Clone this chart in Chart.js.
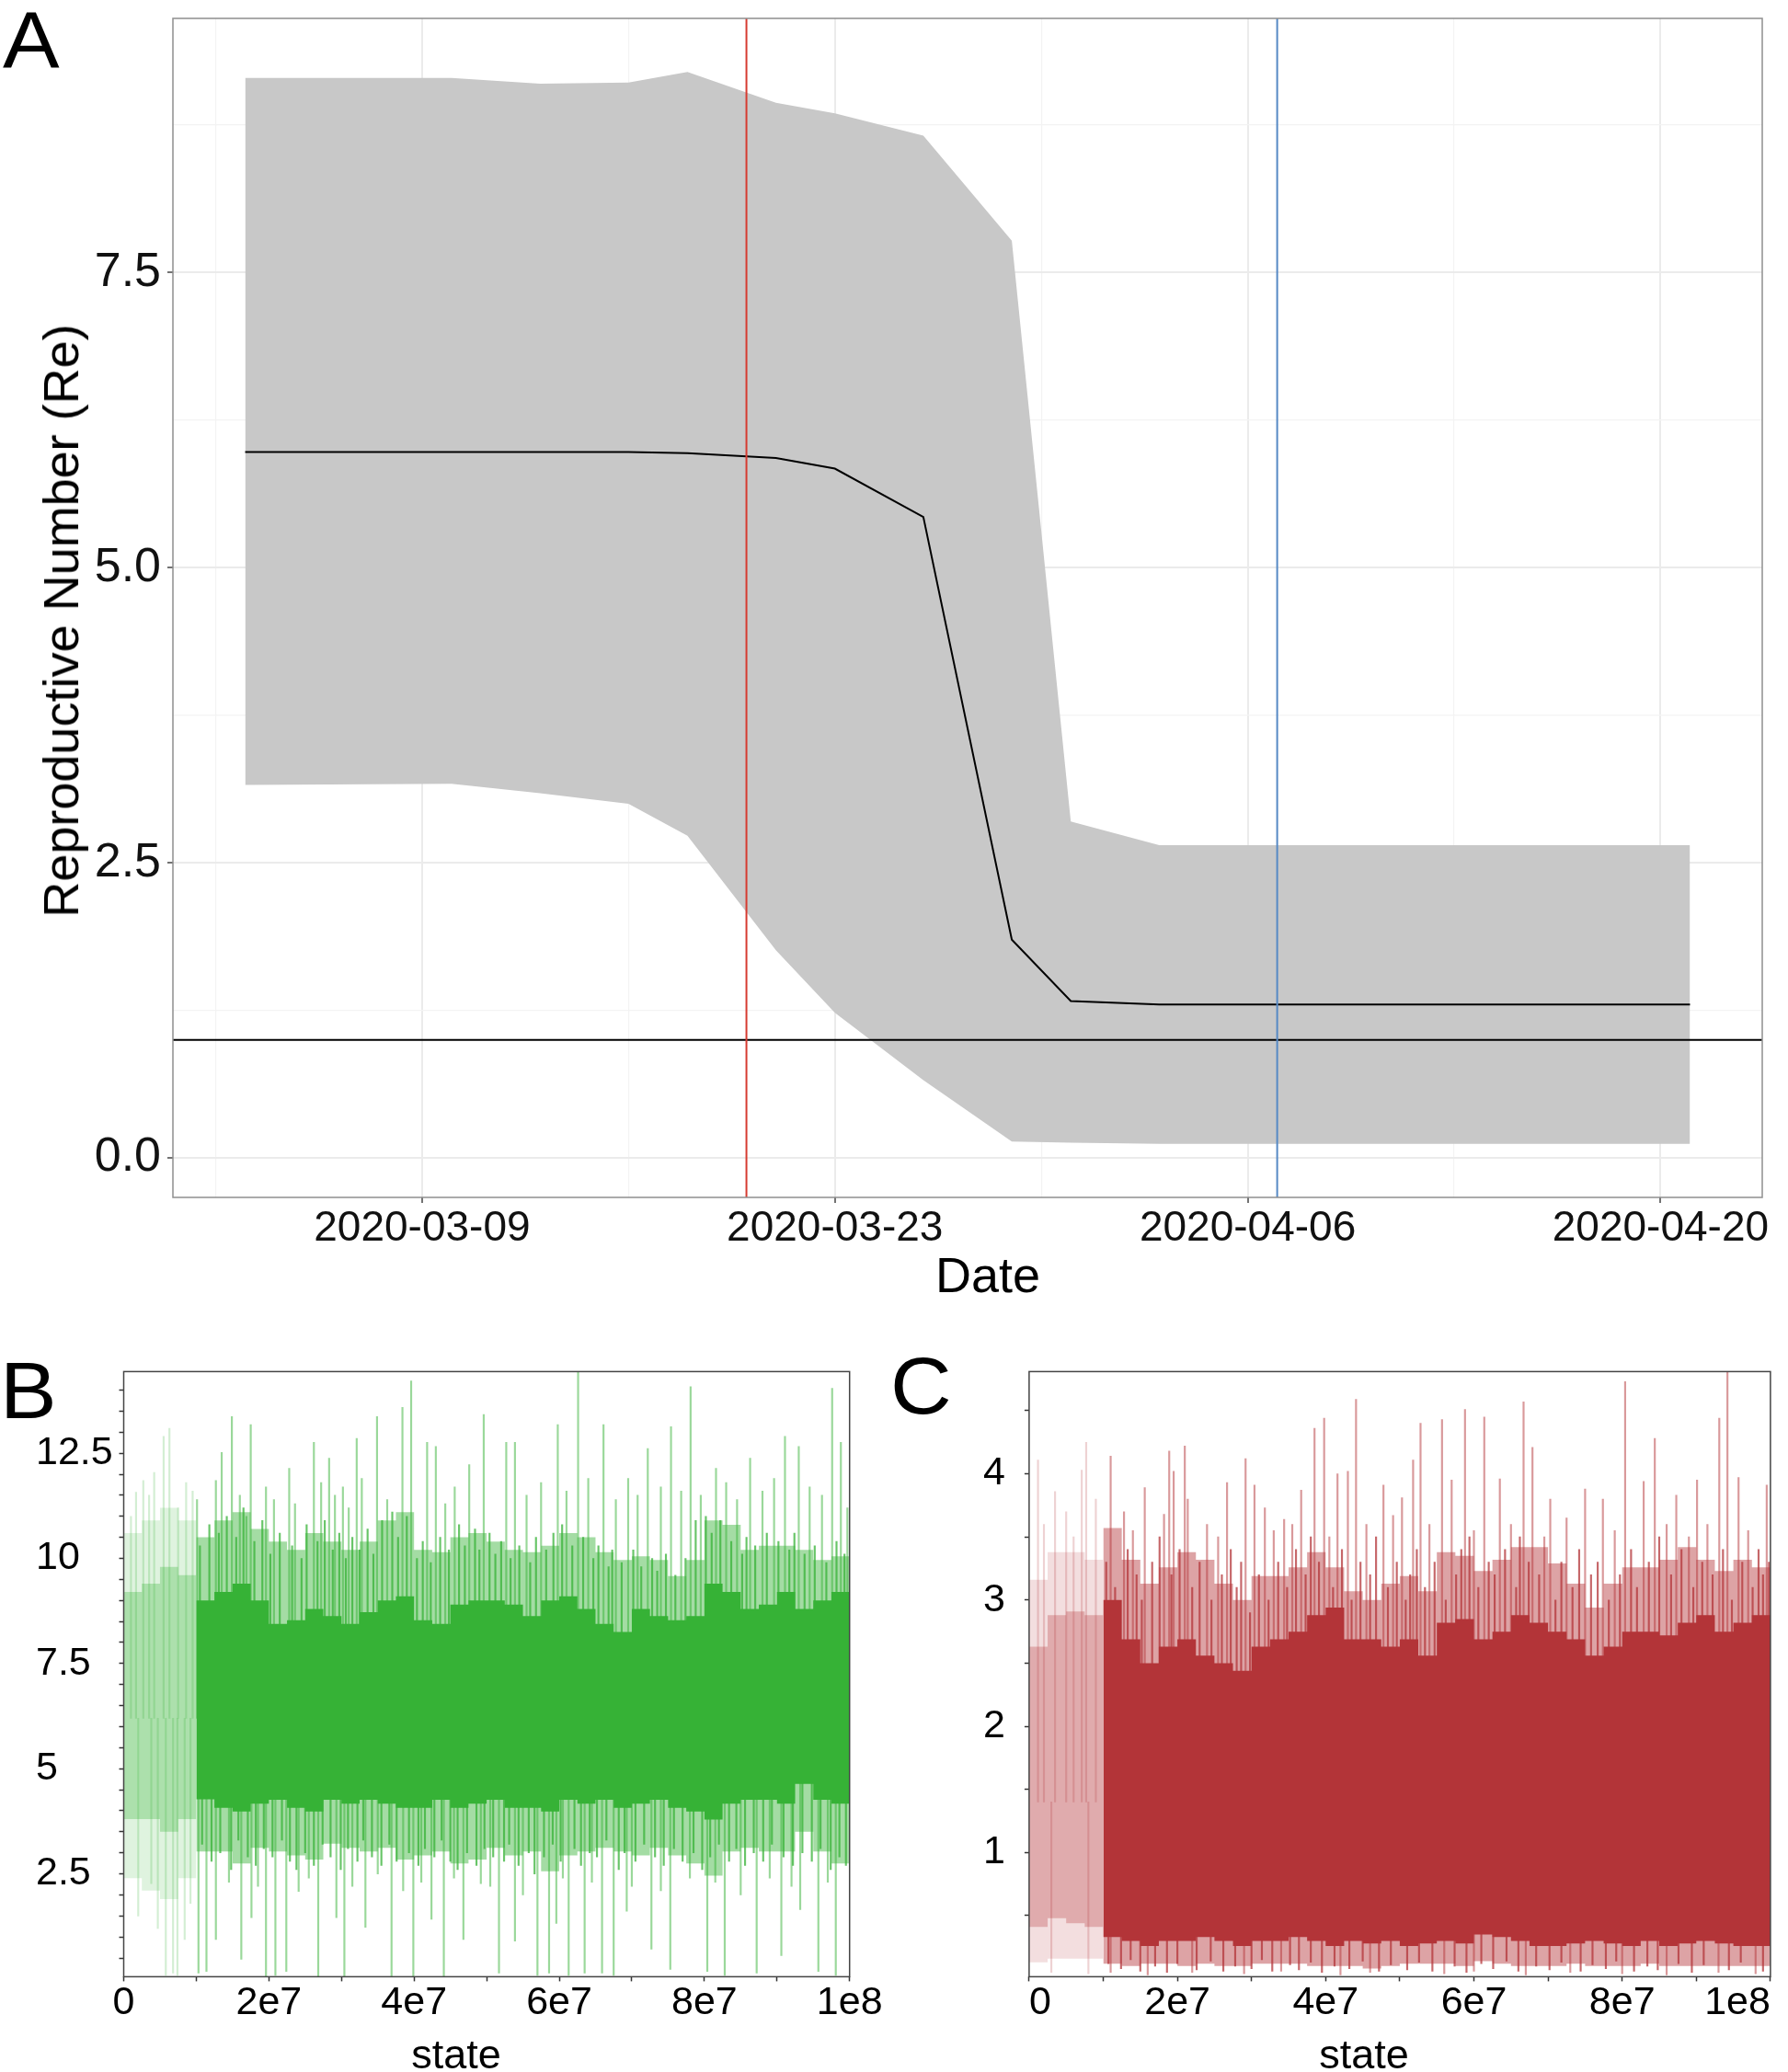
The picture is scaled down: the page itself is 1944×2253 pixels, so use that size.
<!DOCTYPE html>
<html>
<head>
<meta charset="utf-8">
<title>Reproductive number and MCMC traces</title>
<script src="https://cdn.jsdelivr.net/npm/chart.js@4.4.1/dist/chart.umd.min.js"></script>
<style>
  html, body { margin: 0; padding: 0; background: #fff; overflow: hidden; }
  body { width: 1944px; height: 2253px; position: relative; font-family: "Liberation Sans", Arial, sans-serif; }
  .box { position: absolute; }
  .tag { position: absolute; font-size: 88px; line-height: 1; color: #000; transform: scaleX(1.05); transform-origin: left top; }
  .ttl { position: absolute; line-height: 1; color: #000; white-space: nowrap; }
</style>
</head>
<body>
<div class="box" style="left:0;top:0;width:1944px;height:1420px"><canvas id="chartA"></canvas></div>
<div class="box" style="left:0;top:1460px;width:972px;height:793px"><canvas id="chartB"></canvas></div>
<div class="box" style="left:972px;top:1460px;width:972px;height:793px"><canvas id="chartC"></canvas></div>
<div class="tag" style="left:3px;top:0">A</div>
<div class="tag" style="left:0;top:1468px">B</div>
<div class="tag" style="left:968px;top:1463px">C</div>
<div class="ttl" style="font-size:54px;left:1074px;top:1359px;transform:translateX(-50%)">Date</div>
<div class="ttl" style="font-size:54px;left:66px;top:675px;transform:translate(-50%,-50%) rotate(-90deg)">Reproductive Number (Re)</div>
<div class="ttl" style="font-size:45px;left:496px;top:2211px;transform:translateX(-50%)">state</div>
<div class="ttl" style="font-size:45px;left:1483px;top:2211px;transform:translateX(-50%)">state</div>
<script>
// ---- panel A: Re over time (vertices) ----
const dates = ['2020-03-03', '2020-03-10', '2020-03-13', '2020-03-16', '2020-03-18', '2020-03-21',
               '2020-03-23', '2020-03-26', '2020-03-29', '2020-03-31', '2020-04-03', '2020-04-21'];
const reMedian = [5.98, 5.98, 5.98, 5.98, 5.97, 5.93, 5.84, 5.43, 1.85, 1.33, 1.30, 1.30];
const reUpper = [9.15, 9.15, 9.10, 9.11, 9.20, 8.94, 8.85, 8.66, 7.77, 2.85, 2.65, 2.65];
const reLower = [3.16, 3.17, 3.09, 3.00, 2.73, 1.76, 1.23, 0.66, 0.14, 0.13, 0.12, 0.12];
const xTickDates = ['2020-03-09', '2020-03-23', '2020-04-06', '2020-04-20'];
const xMinorDates = ['2020-03-02', '2020-03-16', '2020-03-30', '2020-04-13'];
const yTicksA = [0, 2.5, 5, 7.5];
const yMinorA = [1.25, 3.75, 6.25, 8.75];
const firstMarker = '2020-03-20';
const secondMarker = '2020-04-07';
const threshold = 1;

// ---- panels B and C: trace summaries per 2.5e6-state bin ----
const binWidth = 2.5e6;
const burnInBins = 4;
const stateTicks = [0, 2e7, 4e7, 6e7, 8e7, 1e8];
const stateMinor = [1e7, 3e7, 5e7, 7e7, 9e7];

const semiHiB = [10.6, 10.9, 11.2, 10.9,
  10.5, 10.9, 11.1, 10.7, 10.4, 10.2, 10.6, 10.4, 10.2, 10.4, 10.9, 11.1, 10.2, 10.15, 10.5, 10.6,
  10.4, 10.2, 10.15, 10.3, 10.6, 10.5, 10.15, 9.96, 10.05, 9.96, 9.58, 9.96, 10.9, 10.8, 10.2, 10.3, 10.3, 10.2, 9.96, 10.05];
const coreHiB = [9.2, 9.4, 9.8, 9.6,
  9.0, 9.2, 9.4, 9.0, 8.44, 8.53, 8.8, 8.63, 8.44, 8.72, 9.0, 9.1, 8.53, 8.44, 8.9, 9.0,
  9.0, 8.9, 8.63, 9.0, 9.1, 8.8, 8.44, 8.25, 8.8, 8.63, 8.53, 8.63, 9.4, 9.2, 8.8, 8.9, 9.2, 8.8, 9.0, 9.2];
const coreLoB = [3.8, 3.8, 3.5, 3.8,
  4.27, 4.07, 3.98, 4.17, 4.26, 4.07, 3.98, 4.26, 4.17, 4.26, 4.17, 4.07, 4.07, 4.26, 4.07, 4.17,
  4.26, 4.07, 4.07, 3.98, 4.26, 4.17, 4.26, 4.07, 4.17, 4.26, 4.07, 3.98, 3.79, 4.17, 4.26, 4.26, 4.17, 4.64, 4.26, 4.17];
const semiLoB = [2.4, 2.1, 1.9, 2.4,
  3.03, 3.03, 2.75, 3.12, 3.03, 2.94, 2.84, 3.22, 3.12, 3.03, 3.12, 2.84, 2.94, 3.03, 2.75, 2.84,
  3.12, 2.94, 3.03, 2.56, 2.94, 3.03, 3.12, 3.03, 2.94, 3.12, 2.94, 2.75, 2.46, 3.03, 3.12, 3.03, 3.03, 3.5, 3.03, 2.75];
const centreB = 6.2;
// [state, tip] of the long excursions
const spikesUpB = [[0.1e7, 11.0], [0.17e7, 11.57], [0.27e7, 11.85], [0.35e7, 11.5], [0.42e7, 12.04], [0.55e7, 12.9],
  [0.63e7, 13.09], [0.75e7, 11.2], [0.86e7, 11.8], [0.95e7, 11.6],
  [1.01e7, 11.4], [1.27e7, 11.85], [1.35e7, 12.52], [1.49e7, 13.37], [1.60e7, 11.5], [1.69e7, 11.0], [1.75e7, 13.18],
  [1.96e7, 11.7], [2.07e7, 11.4], [2.28e7, 12.14], [2.36e7, 11.3], [2.62e7, 12.76], [2.72e7, 11.8], [2.83e7, 12.38],
  [2.91e7, 11.5], [3.02e7, 11.7], [3.10e7, 11.2], [3.21e7, 12.85], [3.28e7, 11.9], [3.49e7, 13.37], [3.63e7, 11.4],
  [3.84e7, 13.59], [3.96e7, 14.22], [4.18e7, 12.76], [4.30e7, 12.66], [4.43e7, 11.3], [4.56e7, 11.7], [4.76e7, 12.23],
  [4.96e7, 13.42], [5.27e7, 12.76], [5.39e7, 12.76], [5.55e7, 11.5], [5.75e7, 11.8], [5.98e7, 13.18], [6.10e7, 11.6],
  [6.26e7, 14.42], [6.40e7, 11.9], [6.61e7, 13.18], [6.78e7, 11.4], [6.95e7, 11.9], [7.08e7, 11.5], [7.22e7, 12.61],
  [7.40e7, 11.7], [7.54e7, 13.13], [7.68e7, 11.6], [7.81e7, 14.08], [7.95e7, 11.5], [8.16e7, 12.14], [8.30e7, 11.8],
  [8.45e7, 11.4], [8.63e7, 12.38], [8.80e7, 11.6], [8.96e7, 11.9], [9.11e7, 12.9], [9.30e7, 12.66], [9.45e7, 11.7],
  [9.62e7, 11.5], [9.76e7, 14.04], [9.88e7, 12.76], [9.97e7, 11.2]];
const spikesDownB = [[0.20e7, 1.5], [0.38e7, 2.27], [0.47e7, 1.2], [0.58e7, 0.09], [0.68e7, 0.14], [0.74e7, 0.09],
  [0.84e7, 0.94], [0.92e7, 1.8],
  [1.03e7, 0.14], [1.14e7, 0.18], [1.27e7, 0.94], [1.45e7, 2.3], [1.62e7, 0.47], [1.76e7, 1.46], [1.85e7, 2.2],
  [1.96e7, 0.04], [2.09e7, 0.09], [2.24e7, 0.18], [2.41e7, 2.08], [2.55e7, 2.4], [2.68e7, 0.04], [2.93e7, 1.46],
  [3.04e7, 0.04], [3.15e7, 2.2], [3.33e7, 1.23], [3.50e7, 2.5], [3.69e7, 0.04], [3.85e7, 2.1], [3.99e7, 0.04],
  [4.10e7, 2.3], [4.24e7, 1.42], [4.41e7, 0.04], [4.55e7, 2.4], [4.68e7, 0.94], [4.92e7, 2.27], [5.05e7, 2.2],
  [5.17e7, 0.14], [5.39e7, 0.90], [5.50e7, 2.0], [5.70e7, 0.09], [5.86e7, 0.14], [5.96e7, 1.32], [6.05e7, 2.4],
  [6.13e7, 0.09], [6.35e7, 0.14], [6.45e7, 2.3], [6.59e7, 0.14], [6.75e7, 0.09], [6.93e7, 1.61], [7.00e7, 2.2],
  [7.27e7, 0.71], [7.40e7, 2.1], [7.53e7, 0.23], [7.80e7, 2.4], [8.04e7, 0.18], [8.15e7, 2.3], [8.28e7, 0.09],
  [8.50e7, 2.0], [8.72e7, 0.14], [8.90e7, 2.4], [9.06e7, 0.56], [9.20e7, 2.2], [9.32e7, 1.65], [9.57e7, 0.18],
  [9.70e7, 2.3], [9.81e7, 0.09]];
// shorter strokes just outside the dense core
const fringeUpB = [[1.05e7, 10.3], [1.18e7, 10.8], [1.31e7, 10.6], [1.42e7, 11.0], [1.55e7, 10.5], [1.65e7, 11.2],
  [1.80e7, 10.4], [1.91e7, 10.9], [2.02e7, 10.1], [2.15e7, 10.6], [2.32e7, 10.3], [2.45e7, 10.0], [2.52e7, 10.8],
  [2.67e7, 10.4], [2.77e7, 10.9], [2.88e7, 10.2], [2.97e7, 10.6], [3.06e7, 10.0], [3.15e7, 10.5], [3.25e7, 10.2],
  [3.36e7, 10.7], [3.44e7, 10.1], [3.56e7, 10.9], [3.70e7, 11.1], [3.78e7, 10.5], [3.90e7, 11.0], [4.04e7, 10.0],
  [4.12e7, 10.4], [4.23e7, 9.9], [4.36e7, 10.5], [4.48e7, 10.2], [4.62e7, 10.8], [4.70e7, 10.3], [4.84e7, 10.7],
  [4.90e7, 10.2], [5.04e7, 10.6], [5.12e7, 10.1], [5.20e7, 10.4], [5.33e7, 10.0], [5.45e7, 10.3], [5.60e7, 9.9],
  [5.68e7, 10.5], [5.82e7, 10.2], [5.92e7, 10.6], [6.04e7, 10.8], [6.18e7, 10.3], [6.33e7, 10.5], [6.47e7, 10.0],
  [6.54e7, 10.3], [6.68e7, 9.8], [6.73e7, 10.2], [6.86e7, 9.9], [7.02e7, 10.2], [7.13e7, 9.8], [7.28e7, 10.0],
  [7.35e7, 9.7], [7.47e7, 10.1], [7.60e7, 9.6], [7.74e7, 10.0], [7.88e7, 10.9], [8.02e7, 11.0], [8.10e7, 10.6],
  [8.22e7, 10.9], [8.37e7, 10.4], [8.52e7, 10.1], [8.58e7, 10.5], [8.70e7, 10.3], [8.86e7, 10.6], [9.02e7, 10.4],
  [9.17e7, 10.2], [9.24e7, 10.6], [9.38e7, 10.1], [9.52e7, 10.3], [9.68e7, 9.9], [9.82e7, 10.4], [9.93e7, 10.1]];
const fringeDownB = [[1.08e7, 3.2], [1.21e7, 2.8], [1.33e7, 3.0], [1.48e7, 2.6], [1.58e7, 3.3], [1.71e7, 2.9],
  [1.82e7, 2.7], [1.93e7, 3.1], [2.05e7, 2.9], [2.18e7, 3.3], [2.29e7, 2.8], [2.38e7, 2.6], [2.50e7, 3.0],
  [2.62e7, 2.7], [2.74e7, 3.2], [2.85e7, 2.9], [2.99e7, 2.6], [3.09e7, 3.1], [3.22e7, 2.8], [3.30e7, 3.3],
  [3.42e7, 2.9], [3.55e7, 2.7], [3.66e7, 3.2], [3.76e7, 2.8], [3.93e7, 3.0], [4.06e7, 2.7], [4.15e7, 3.1],
  [4.28e7, 2.9], [4.38e7, 3.3], [4.50e7, 2.8], [4.60e7, 2.6], [4.73e7, 3.0], [4.86e7, 2.7], [4.97e7, 3.1],
  [5.09e7, 2.9], [5.24e7, 2.8], [5.31e7, 3.2], [5.44e7, 2.7], [5.58e7, 3.0], [5.66e7, 2.5], [5.79e7, 2.9],
  [5.91e7, 3.2], [6.02e7, 2.8], [6.21e7, 3.1], [6.30e7, 2.7], [6.42e7, 3.0], [6.52e7, 2.9], [6.65e7, 3.3],
  [6.82e7, 2.6], [6.90e7, 3.0], [7.05e7, 2.8], [7.17e7, 3.2], [7.32e7, 2.9], [7.44e7, 2.7], [7.58e7, 3.1],
  [7.70e7, 2.8], [7.85e7, 3.0], [7.97e7, 2.6], [8.08e7, 2.9], [8.20e7, 3.2], [8.34e7, 2.8], [8.44e7, 3.1],
  [8.56e7, 2.7], [8.68e7, 3.0], [8.81e7, 2.8], [8.93e7, 3.2], [9.09e7, 2.9], [9.22e7, 2.7], [9.35e7, 3.0],
  [9.48e7, 2.8], [9.60e7, 3.1], [9.74e7, 2.6], [9.86e7, 2.9], [9.95e7, 2.7]];
const yTicksB = [2.5, 5, 7.5, 10, 12.5];

const semiHiC = [3.16, 3.38, 3.38, 3.32,
  3.57, 3.32, 3.13, 3.26, 3.38, 3.32, 3.13, 3.0, 3.19, 3.19, 3.26, 3.38, 3.26, 3.07, 3.0, 3.13,
  3.19, 3.07, 3.38, 3.35, 3.23, 3.32, 3.42, 3.42, 3.29, 3.13, 2.94, 3.13, 3.26, 3.26, 3.32, 3.42, 3.32, 3.23, 3.32, 3.26];
const coreHiC = [2.63, 2.88, 2.91, 2.88,
  3.0, 2.69, 2.5, 2.63, 2.69, 2.56, 2.5, 2.44, 2.63, 2.69, 2.75, 2.88, 2.94, 2.69, 2.69, 2.63,
  2.69, 2.56, 2.82, 2.85, 2.69, 2.75, 2.88, 2.82, 2.75, 2.69, 2.56, 2.63, 2.75, 2.75, 2.72, 2.82, 2.88, 2.75, 2.82, 2.88];
const coreLoC = [0.41, 0.48, 0.44, 0.41,
  0.33, 0.30, 0.26, 0.30, 0.30, 0.33, 0.30, 0.26, 0.30, 0.30, 0.33, 0.30, 0.26, 0.30, 0.28, 0.30,
  0.26, 0.28, 0.30, 0.28, 0.35, 0.33, 0.30, 0.26, 0.26, 0.28, 0.30, 0.28, 0.26, 0.30, 0.26, 0.28, 0.30, 0.28, 0.26, 0.26];
const semiLoC = [0.13, 0.16, 0.16, 0.16,
  0.12, 0.10, 0.12, 0.12, 0.10, 0.12, 0.10, 0.10, 0.12, 0.12, 0.12, 0.10, 0.10, 0.10, 0.08, 0.10,
  0.12, 0.12, 0.12, 0.10, 0.14, 0.12, 0.10, 0.10, 0.10, 0.12, 0.10, 0.10, 0.10, 0.12, 0.10, 0.10, 0.10, 0.10, 0.10, 0.10];
const centreC = 1.4;
const spikesUpC = [[0.12e7, 4.11], [0.2e7, 3.6], [0.35e7, 3.86], [0.5e7, 3.7], [0.6e7, 3.5], [0.71e7, 4.03],
  [0.77e7, 4.25], [0.9e7, 3.8],
  [1.10e7, 4.14], [1.28e7, 3.70], [1.40e7, 3.55], [1.56e7, 3.89], [1.82e7, 3.68], [1.89e7, 4.18], [1.95e7, 4.02],
  [2.10e7, 4.22], [2.14e7, 3.80], [2.40e7, 3.6], [2.55e7, 3.5], [2.67e7, 3.93], [2.92e7, 4.12], [3.04e7, 3.91],
  [3.18e7, 3.73], [3.30e7, 3.55], [3.44e7, 3.64], [3.55e7, 3.6], [3.67e7, 3.87], [3.85e7, 4.36], [3.98e7, 4.44],
  [4.05e7, 3.5], [4.16e7, 4.00], [4.30e7, 4.02], [4.41e7, 4.59], [4.55e7, 3.6], [4.78e7, 3.91], [4.91e7, 3.67],
  [5.03e7, 3.81], [5.18e7, 4.11], [5.28e7, 4.40], [5.40e7, 3.6], [5.57e7, 4.43], [5.70e7, 3.95], [5.88e7, 4.51],
  [6.00e7, 3.55], [6.14e7, 4.45], [6.35e7, 3.96], [6.50e7, 3.6], [6.67e7, 4.57], [6.79e7, 4.21], [6.95e7, 3.5],
  [7.03e7, 3.80], [7.25e7, 3.65], [7.50e7, 3.88], [7.74e7, 3.80], [7.90e7, 3.55], [8.04e7, 4.73], [8.29e7, 3.94],
  [8.44e7, 4.28], [8.60e7, 3.6], [8.73e7, 3.83], [8.90e7, 3.5], [9.01e7, 3.95], [9.15e7, 3.6], [9.31e7, 4.44],
  [9.42e7, 4.81], [9.57e7, 3.97], [9.70e7, 3.55], [9.95e7, 3.91]];
const spikesDownC = [[0.3e7, 0.05], [0.8e7, 0.04], [1.1e7, 0.05], [1.6e7, 0.03], [2.2e7, 0.05], [2.9e7, 0.04],
  [3.4e7, 0.06], [4.2e7, 0.03], [4.6e7, 0.05], [5.6e7, 0.04], [6.0e7, 0.06], [6.7e7, 0.03], [7.3e7, 0.05],
  [8.0e7, 0.04], [8.6e7, 0.03], [9.3e7, 0.05], [9.8e7, 0.04]];
const fringeUpC = [[1.04e7, 3.3], [1.16e7, 3.1], [1.33e7, 3.4], [1.45e7, 3.2], [1.52e7, 3.0], [1.66e7, 3.3],
  [1.76e7, 3.5], [1.92e7, 3.2], [2.03e7, 3.4], [2.20e7, 3.1], [2.30e7, 3.3], [2.46e7, 3.0], [2.60e7, 3.2],
  [2.72e7, 3.4], [2.80e7, 3.1], [2.86e7, 3.3], [2.98e7, 2.9], [3.10e7, 3.2], [3.23e7, 3.0], [3.36e7, 3.3],
  [3.48e7, 3.1], [3.60e7, 3.4], [3.73e7, 3.2], [3.80e7, 3.5], [3.91e7, 3.3], [4.10e7, 3.1], [4.22e7, 3.4],
  [4.35e7, 3.0], [4.47e7, 3.3], [4.60e7, 3.2], [4.68e7, 3.5], [4.84e7, 3.1], [4.96e7, 3.3], [5.08e7, 3.0],
  [5.14e7, 3.2], [5.23e7, 3.4], [5.34e7, 3.1], [5.47e7, 3.3], [5.62e7, 3.0], [5.76e7, 3.2], [5.83e7, 3.4],
  [5.94e7, 3.5], [6.06e7, 3.1], [6.20e7, 3.3], [6.28e7, 3.2], [6.42e7, 3.4], [6.57e7, 3.1], [6.62e7, 3.5],
  [6.74e7, 3.3], [6.88e7, 3.2], [7.10e7, 3.0], [7.18e7, 3.3], [7.33e7, 3.1], [7.42e7, 3.4], [7.58e7, 3.2],
  [7.67e7, 3.3], [7.82e7, 3.0], [7.97e7, 3.2], [8.12e7, 3.4], [8.20e7, 3.1], [8.36e7, 3.3], [8.50e7, 3.5],
  [8.66e7, 3.2], [8.80e7, 3.4], [8.96e7, 3.1], [9.08e7, 3.3], [9.22e7, 3.2], [9.36e7, 3.4], [9.48e7, 3.0],
  [9.62e7, 3.3], [9.76e7, 3.1], [9.84e7, 3.4], [9.90e7, 3.2], [9.98e7, 3.3]];
const fringeDownC = [[1.07e7, 0.12], [1.24e7, 0.08], [1.37e7, 0.15], [1.50e7, 0.06], [1.70e7, 0.10], [1.86e7, 0.05],
  [2.00e7, 0.12], [2.26e7, 0.07], [2.45e7, 0.14], [2.62e7, 0.06], [2.78e7, 0.10], [3.00e7, 0.08], [3.14e7, 0.15],
  [3.28e7, 0.06], [3.52e7, 0.11], [3.64e7, 0.07], [3.80e7, 0.13], [3.95e7, 0.05], [4.12e7, 0.10], [4.32e7, 0.08],
  [4.50e7, 0.14], [4.72e7, 0.06], [4.88e7, 0.11], [5.10e7, 0.07], [5.26e7, 0.13], [5.44e7, 0.06], [5.74e7, 0.10],
  [5.90e7, 0.05], [6.10e7, 0.12], [6.26e7, 0.08], [6.44e7, 0.14], [6.60e7, 0.06], [6.84e7, 0.10], [7.02e7, 0.07],
  [7.18e7, 0.13], [7.44e7, 0.06], [7.60e7, 0.11], [7.78e7, 0.08], [7.92e7, 0.14], [8.16e7, 0.06], [8.34e7, 0.10],
  [8.48e7, 0.07], [8.76e7, 0.12], [8.94e7, 0.05], [9.10e7, 0.11], [9.44e7, 0.07], [9.60e7, 0.13], [9.90e7, 0.06]];
const yTicksC = [1, 2, 3, 4];

const FAMILY = '"Liberation Sans", Arial, sans-serif';
Chart.defaults.font.family = FAMILY;
Chart.defaults.color = '#000';
Chart.defaults.animation = false;

const frame = (colour, width) => ({
  id: 'frame',
  afterDraw(chart) {
    const {ctx, chartArea: a} = chart;
    ctx.save();
    ctx.strokeStyle = colour;
    ctx.lineWidth = width;
    ctx.strokeRect(a.left, a.top, a.right - a.left, a.bottom - a.top);
    ctx.restore();
  }
});

const fixSize = (w, h) => s => {
  if (w !== null) s.width = w;
  if (h !== null) s.height = h;
  s.paddingLeft = 0; s.paddingRight = 0; s.paddingTop = 0; s.paddingBottom = 0;
};

// ---------------- panel A ----------------
const dayOf = s => Date.parse(s) / 864e5;
const fmtDay = v => new Date(v * 864e5).toISOString().slice(0, 10);
const xs = dates.map(dayOf);
const pts = arr => arr.map((v, i) => ({x: xs[i], y: v}));
const xSpan = xs[xs.length - 1] - xs[0];
const xMinA = xs[0] - 0.05 * xSpan, xMaxA = xs[xs.length - 1] + 0.05 * xSpan;
const lo = Math.min(...reLower), hi = Math.max(...reUpper);
const yMinA = lo - 0.05 * (hi - lo), yMaxA = hi + 0.05 * (hi - lo);
const majorX = new Set(xTickDates.map(dayOf));
const majorY = new Set(yTicksA);

new Chart(document.getElementById('chartA'), {
  type: 'line',
  data: {
    datasets: [
      {data: pts(reUpper), fill: '+1', backgroundColor: '#c8c8c8', borderWidth: 0, pointRadius: 0, order: 5},
      {data: pts(reLower), fill: false, borderWidth: 0, pointRadius: 0, order: 5},
      {data: pts(reMedian), borderColor: '#000', borderWidth: 2, pointRadius: 0, order: 3},
      {data: [{x: xMinA, y: threshold}, {x: xMaxA, y: threshold}], borderColor: '#000', borderWidth: 2, pointRadius: 0, order: 2},
      {data: [{x: dayOf(firstMarker), y: yMinA}, {x: dayOf(firstMarker), y: yMaxA}], borderColor: '#d63a30', borderWidth: 2, pointRadius: 0, order: 1},
      {data: [{x: dayOf(secondMarker), y: yMinA}, {x: dayOf(secondMarker), y: yMaxA}], borderColor: '#5689c5', borderWidth: 2, pointRadius: 0, order: 1}
    ]
  },
  options: {
    responsive: true, maintainAspectRatio: false,
    layout: {padding: {left: 0, top: 20, right: 28, bottom: 0}},
    elements: {line: {tension: 0}},
    plugins: {legend: {display: false}, tooltip: {enabled: false}},
    scales: {
      x: {
        type: 'linear', min: xMinA, max: xMaxA,
        afterBuildTicks: s => { s.ticks = [...xMinorDates, ...xTickDates].map(dayOf).sort((a, b) => a - b).map(v => ({value: v})); },
        afterFit: fixSize(null, 118),
        ticks: {autoSkip: false, maxRotation: 0, padding: 1, font: {size: 46}, color: '#111',
                callback: v => majorX.has(v) ? fmtDay(v) : ''},
        grid: {color: c => majorX.has(c.tick.value) ? '#ebebeb' : '#f3f3f3',
               lineWidth: c => majorX.has(c.tick.value) ? 2 : 1.2,
               tickColor: c => majorX.has(c.tick.value) ? '#444' : 'rgba(0,0,0,0)', tickLength: 6, tickWidth: 1.5},
        border: {display: false}
      },
      y: {
        type: 'linear', min: yMinA, max: yMaxA,
        afterBuildTicks: s => { s.ticks = [...yTicksA, ...yMinorA].sort((a, b) => a - b).map(v => ({value: v})); },
        afterFit: fixSize(188, null),
        ticks: {autoSkip: false, padding: 7, font: {size: 52}, color: '#111',
                callback: v => majorY.has(v) ? v.toFixed(1) : ''},
        grid: {color: c => majorY.has(c.tick.value) ? '#ebebeb' : '#f3f3f3',
               lineWidth: c => majorY.has(c.tick.value) ? 2 : 1.2,
               tickColor: c => majorY.has(c.tick.value) ? '#444' : 'rgba(0,0,0,0)', tickLength: 6, tickWidth: 1.5},
        border: {display: false}
      }
    }
  },
  plugins: [frame('#8f8f8f', 1.5)]
});

// ---------------- panels B and C ----------------
const sci = v => {
  if (v === 0) return '0';
  const e = Math.floor(Math.log10(v));
  return Math.round(v / Math.pow(10, e)) + 'e' + e;
};

function traceChart(id, t) {
  const col = a => 'rgba(' + t.rgb + ',' + a + ')';
  const steps = (vals, from, to) => {
    const out = [];
    for (let i = from; i < to; i++) out.push({x: i * binWidth, y: vals[i]});
    out.push({x: to * binWidth, y: vals[to - 1]});
    return out;
  };
  const n = t.semiHi.length;
  const band = (hiV, loV, from, to, colour, order) => [
    {type: 'line', data: steps(hiV, from, to), stepped: true, fill: '+1', backgroundColor: colour, borderWidth: 0, pointRadius: 0, order},
    {type: 'line', data: steps(loV, from, to), stepped: true, fill: false, borderWidth: 0, pointRadius: 0, order}
  ];
  const burnEnd = burnInBins * binWidth;
  const strokes = (list, inBurn, colour, order) => ({
    type: 'bar', grouped: false, barThickness: 1.5, backgroundColor: colour, borderWidth: 0, order,
    data: list.filter(p => (p[0] < burnEnd) === inBurn).map(p => ({x: p[0], y: [t.centre, p[1]]}))
  });
  const yMajor = new Set(t.yTicks);
  const yAll = [];
  for (let v = t.minorStep; v < t.yMax; v += t.minorStep) yAll.push(Math.round(v * 100) / 100);

  new Chart(document.getElementById(id), {
    type: 'bar',
    data: {
      datasets: [
        strokes(t.up, true, col(0.22), 9),
        strokes(t.down, true, col(0.22), 9),
        ...band(t.semiHi, t.semiLo, 0, burnInBins, col(0.16), 8),
        ...band(t.coreHi, t.coreLo, 0, burnInBins, col(0.3), 7),
        strokes(t.up, false, col(0.5), 4),
        strokes(t.down, false, col(0.5), 4),
        strokes(t.fringeUp, false, col(0.75), 4),
        strokes(t.fringeDown, false, col(0.75), 4),
        ...band(t.semiHi, t.semiLo, burnInBins, n, col(0.45), 3),
        ...band(t.coreHi, t.coreLo, burnInBins, n, col(1), 2)
      ]
    },
    options: {
      responsive: true, maintainAspectRatio: false,
      layout: {padding: {left: t.padLeft, top: 31.4, right: t.padRight, bottom: 0}},
      plugins: {legend: {display: false}, tooltip: {enabled: false}},
      scales: {
        x: {
          type: 'linear', min: 0, max: 1e8, offset: false,
          afterBuildTicks: s => { s.ticks = [...stateTicks, ...stateMinor].sort((a, b) => a - b).map(v => ({value: v})); },
          afterFit: fixSize(null, 103.6),
          ticks: {autoSkip: false, maxRotation: 0, padding: 2.6, align: t.xAlign, font: {size: 43, lineHeight: 1}, color: '#000',
                  callback: v => stateTicks.includes(v) ? sci(v) : ''},
          grid: {offset: false, drawOnChartArea: false, tickColor: '#333', tickLength: 5, tickWidth: 1.5},
          border: {display: false}
        },
        y: {
          type: 'linear', min: t.yMin, max: t.yMax,
          afterBuildTicks: s => { s.ticks = yAll.map(v => ({value: v})); },
          afterFit: fixSize(t.yWidth, null),
          ticks: {autoSkip: false, padding: t.yPad, crossAlign: t.yCross, font: {size: 43}, color: '#000',
                  callback: v => yMajor.has(v) ? String(v) : ''},
          grid: {drawOnChartArea: false, tickColor: '#333', tickLength: 5, tickWidth: 1.5},
          border: {display: false}
        }
      }
    },
    plugins: [frame('#444', 1.5)]
  });
}

traceChart('chartB', {
  rgb: '54,178,54', centre: centreB,
  semiHi: semiHiB, coreHi: coreHiB, coreLo: coreLoB, semiLo: semiLoB,
  up: spikesUpB, down: spikesDownB, fringeUp: fringeUpB, fringeDown: fringeDownB,
  yMin: 0.055, yMax: 14.44, yTicks: yTicksB, minorStep: 0.5,
  padLeft: 39, padRight: 48.3, yWidth: 95.5, yPad: 5, yCross: 'far', xAlign: 'center'
});

traceChart('chartC', {
  rgb: '179,52,56', centre: centreC,
  semiHi: semiHiC, coreHi: coreHiC, coreLo: coreLoC, semiLo: semiLoC,
  up: spikesUpC, down: spikesDownC, fringeUp: fringeUpC, fringeDown: fringeDownC,
  yMin: 0.016, yMax: 4.81, yTicks: yTicksC, minorStep: 0.5,
  padLeft: 0, padRight: 19.1, yWidth: 146.9, yPad: 21, yCross: 'near', xAlign: 'inner'
});
</script>
</body>
</html>
